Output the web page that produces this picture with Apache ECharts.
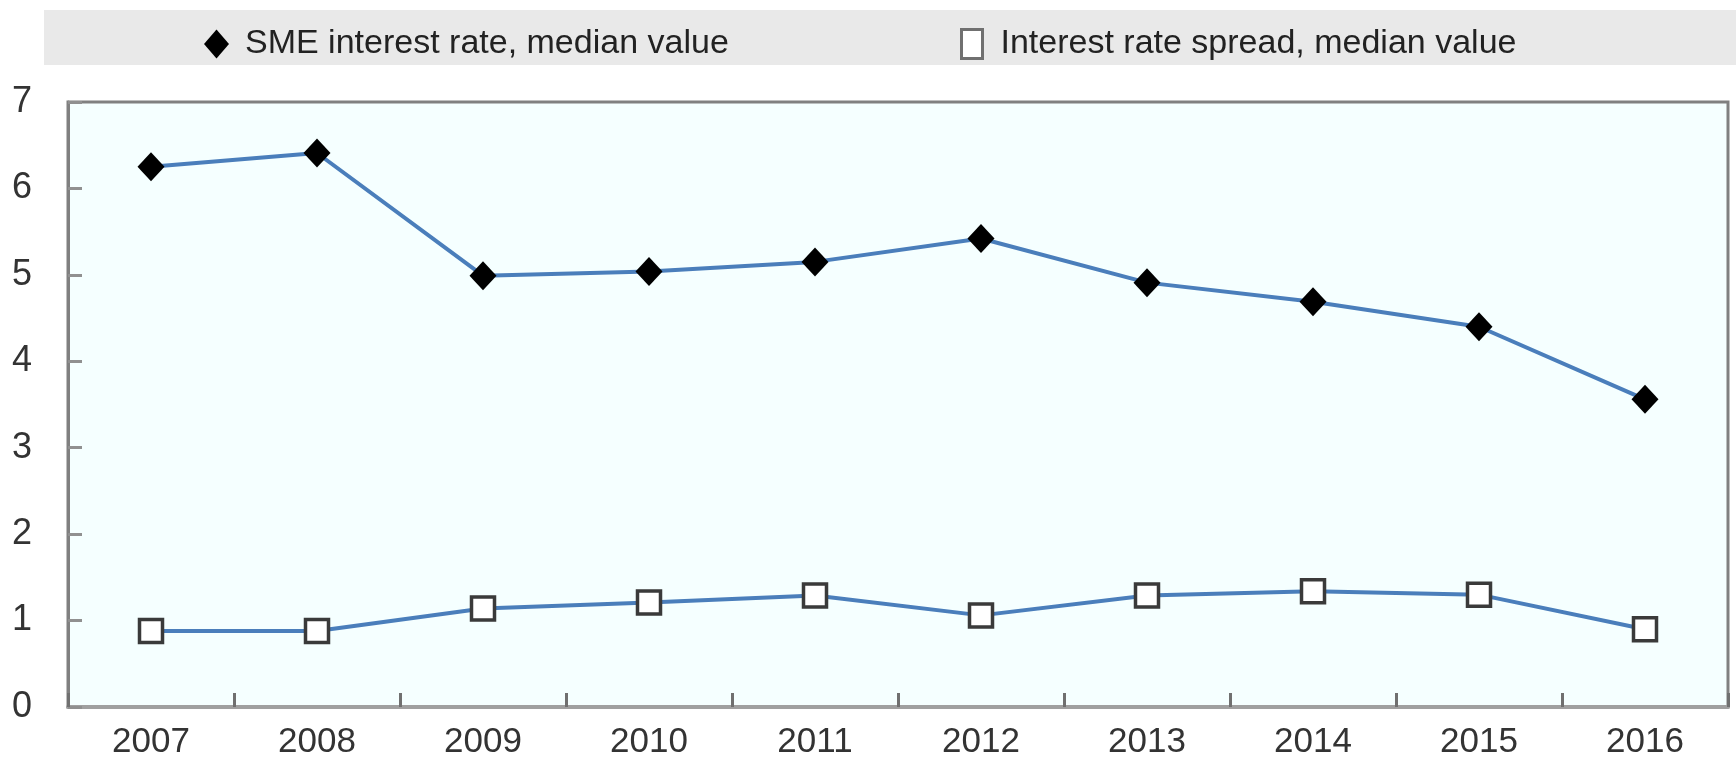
<!DOCTYPE html>
<html>
<head>
<meta charset="utf-8">
<script src="https://cdn.jsdelivr.net/npm/echarts@6/dist/echarts.min.js"></script>
<style>html,body{margin:0;padding:0;background:#fff}#c{width:1736px;height:761px}</style>
</head>
<body>
<div id="c"></div>
<script>
const years = ['2007','2008','2009','2010','2011','2012','2013','2014','2015','2016'];
const smeRate = [6.25, 6.41, 4.99, 5.04, 5.15, 5.42, 4.91, 4.69, 4.40, 3.56];
const rateSpread = [0.88, 0.88, 1.14, 1.21, 1.29, 1.06, 1.29, 1.34, 1.30, 0.90];
const seriesNames = ['SME interest rate, median value', 'Interest rate spread, median value'];

const FONT = '"Liberation Sans", Arial, sans-serif';
const chart = echarts.init(document.getElementById('c'), null, {renderer: 'canvas'});
chart.setOption({
  animation: false,
  graphic: [{
    type: 'rect', z: -10, silent: true,
    shape: {x: 44, y: 10, width: 1692, height: 55},
    style: {fill: '#E9E9E9'}
  }],
  legend: [{
    data: [{name: seriesNames[0], icon: 'diamond', itemStyle: {color: '#000', borderWidth: 0}}],
    left: 199, top: 22, itemWidth: 25, itemHeight: 29,
    textStyle: {fontFamily: FONT, fontSize: 34, color: '#222', padding: [0, 0, 0, 11]}
  }, {
    data: [{name: seriesNames[1], icon: 'rect', itemStyle: {color: '#fff', borderColor: '#707070', borderWidth: 3}}],
    left: 955, top: 22, itemWidth: 21, itemHeight: 29,
    textStyle: {fontFamily: FONT, fontSize: 34, color: '#222', padding: [0, 0, 0, 13]}
  }],
  grid: {
    left: 68, right: 8, top: 102, bottom: 54,
    show: true, backgroundColor: '#F5FFFF', borderColor: '#808080', borderWidth: 3
  },
  xAxis: {
    type: 'category', data: years, boundaryGap: true,
    axisLine: {show: true, lineStyle: {color: '#A0A0A0', width: 4}},
    axisTick: {show: true, inside: true, length: 14, alignWithLabel: false, lineStyle: {color: '#707070', width: 3}},
    axisLabel: {fontFamily: FONT, fontSize: 35, color: '#333', margin: 18},
    splitLine: {show: false}
  },
  yAxis: {
    type: 'value', min: 0, max: 7, interval: 1,
    axisLine: {show: true, lineStyle: {color: '#808080', width: 3}},
    axisTick: {show: true, inside: true, length: 14, lineStyle: {color: '#909090', width: 3}},
    axisLabel: {fontFamily: FONT, fontSize: 36, color: '#333', margin: 36},
    splitLine: {show: false}
  },
  series: [{
    name: seriesNames[0], type: 'line', data: smeRate,
    symbol: 'diamond', symbolSize: [27, 29],
    lineStyle: {color: '#4A7EBB', width: 4},
    itemStyle: {color: '#000', borderWidth: 0},
    z: 3
  }, {
    name: seriesNames[1], type: 'line', data: rateSpread,
    symbol: 'rect', symbolSize: [23, 23],
    lineStyle: {color: '#4A7EBB', width: 4},
    itemStyle: {color: '#fff', borderColor: '#3A3A3A', borderWidth: 3.5},
    z: 3
  }]
});
</script>
</body>
</html>
